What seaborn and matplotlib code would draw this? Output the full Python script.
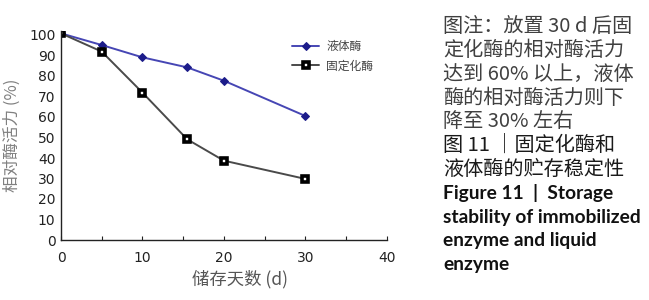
import numpy as np
import pandas as pd
import seaborn as sns
import matplotlib.pyplot as plt

# storage days and relative activity (%)
days = [0, 5, 10, 15.5, 20, 30]
liquid = [100.8, 95.1, 89.1, 84.2, 77.7, 60.5]
immobilized = [100.8, 91.9, 71.9, 49.1, 38.7, 29.8]
series_names = ['液体酶', '固定化酶']

note_lines = ['图注：放置 30 d 后固', '定化酶的相对酶活力', '达到 60% 以上，液体',
              '酶的相对酶活力则下', '降至 30% 左右']
cap_cn = ['图 11 ｜固定化酶和', '液体酶的贮存稳定性']
cap_en = ['Figure 11  |  Storage', 'stability of immobilized', 'enzyme and liquid', 'enzyme']

sns.set_style('ticks')
plt.rcParams['font.family'] = ['DejaVu Sans', 'Noto Sans CJK SC']
cjk = ['Noto Sans CJK SC', 'DejaVu Sans']

df = pd.DataFrame({'day': days * 2,
                   'act': liquid + immobilized,
                   'kind': [series_names[0]] * len(days) + [series_names[1]] * len(days)})

fig = plt.figure(figsize=(6.49, 3.0), dpi=100)
ax = fig.add_axes([0.094, 0.2, 0.502, 0.697])

sns.lineplot(data=df[df.kind == series_names[0]], x='day', y='act', ax=ax,
             color='#4646b4', lw=1.4, marker='D', ms=4.5, mfc='#1c1c8a', mec='#1c1c8a',
             label=series_names[0])
sns.lineplot(data=df[df.kind == series_names[1]], x='day', y='act', ax=ax,
             color='#4a4a4a', lw=1.4, marker='s', ms=5, mfc='white', mec='black', mew=2.6,
             label=series_names[1])

ax.set_xlim(0, 40)
ax.set_ylim(0, 102)
ax.set_xticks([0, 10, 20, 30, 40])
ax.set_xticks([5, 15, 25, 35], minor=True)
ax.set_yticks(range(0, 101, 10))
ax.tick_params(axis='both', which='both', direction='in', labelsize=10, colors='#222222',
               length=3, width=0.8)
ax.tick_params(axis='x', pad=8)
ax.tick_params(axis='y', length=0, pad=4)
sns.despine(ax=ax)
for s in ['left', 'bottom']:
    ax.spines[s].set_color('#222222')
    ax.spines[s].set_linewidth(1.0)

ax.set_xlabel('储存天数 (d)', fontsize=12.5, color='#555555', family=cjk)
ax.xaxis.set_label_coords(0.55, -0.145)
ax.set_ylabel('相对酶活力 (%)', fontsize=12, color='#808080', family=cjk)
ax.yaxis.set_label_coords(-0.123, 0.5)

leg = ax.legend(loc='upper left', bbox_to_anchor=(0.441, 0.885), bbox_transform=fig.transFigure,
                frameon=False, prop={'family': cjk, 'size': 8.5}, handlelength=2.3,
                labelspacing=0.5, handletextpad=0.6, borderpad=0)
for t in leg.get_texts():
    t.set_color('#444444')

y = 0.911
step = 0.0793
for line in note_lines:
    fig.text(0.683, y, line, fontsize=14.5, color='#404040', family=cjk, va='center')
    y -= step
for line in cap_cn:
    fig.text(0.683, y, line, fontsize=14.5, color='#1a1a1a', family=cjk, va='center')
    y -= step
for line in cap_en:
    fig.text(0.683, y, line, fontsize=13.8, color='#111111', family=['Lato'],
             weight='bold', va='center')
    y -= step

fig.savefig('out.png', dpi=100)
